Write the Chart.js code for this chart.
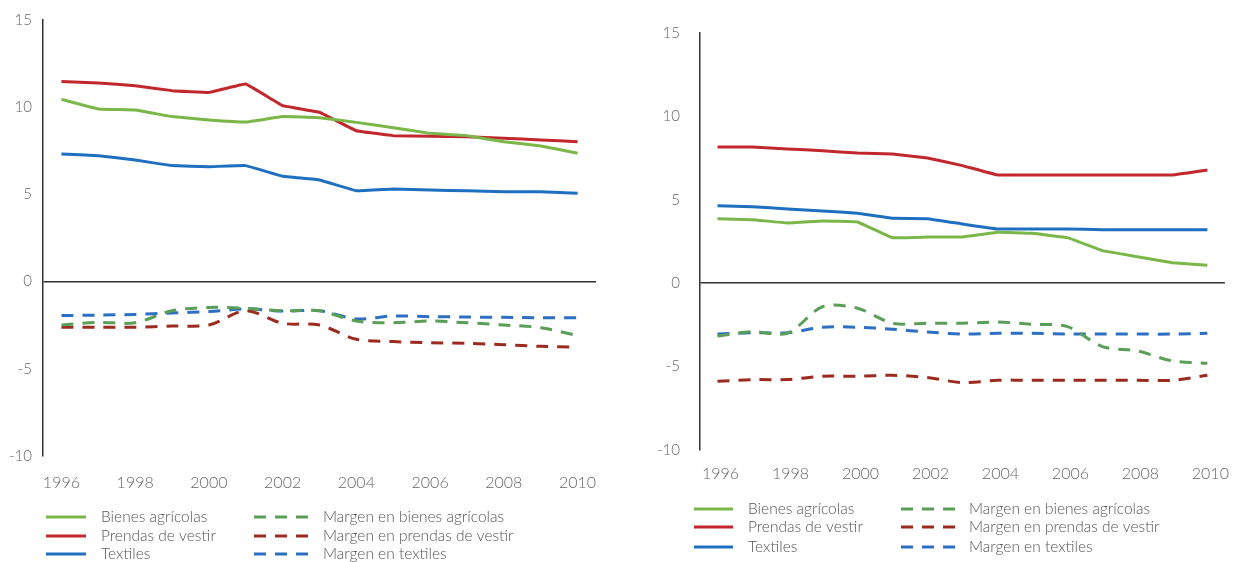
<!DOCTYPE html>
<html>
<head>
<meta charset="utf-8">
<script src="https://cdn.jsdelivr.net/npm/chart.js@4.4.0/dist/chart.umd.min.js"></script>
<style>
  html, body { margin: 0; padding: 0; background: #fff; }
  .wrap { display: flex; width: 1240px; height: 562px; }
  .box { width: 620px; height: 562px; }
</style>
</head>
<body>
<div class="wrap">
  <div class="box"><canvas id="chart-left" width="620" height="562"></canvas></div>
  <div class="box"><canvas id="chart-right" width="620" height="562"></canvas></div>
</div>
<script>
const years = ['1996', '1997', '1998', '1999', '2000', '2001', '2002', '2003',
               '2004', '2005', '2006', '2007', '2008', '2009', '2010'];

const seriesNames = [
    'Bienes agrícolas', 'Prendas de vestir', 'Textiles',
    'Margen en bienes agrícolas', 'Margen en prendas de vestir', 'Margen en textiles'
];

// left panel
const leftAgricolas = [10.45, 9.9, 9.84, 9.46, 9.27, 9.15, 9.46, 9.4, 9.13, 8.82, 8.5, 8.37, 8.02, 7.78, 7.36];
const leftVestir = [11.48, 11.39, 11.23, 10.95, 10.85, 11.33, 10.09, 9.71, 8.65, 8.37, 8.33, 8.31, 8.22, 8.12, 8.02];
const leftTextiles = [7.32, 7.22, 6.97, 6.65, 6.59, 6.65, 6.04, 5.83, 5.21, 5.31, 5.25, 5.21, 5.15, 5.15, 5.06];
const leftMargenAgricolas = [-2.49, -2.34, -2.36, -1.67, -1.48, -1.53, -1.67, -1.67, -2.26, -2.36, -2.26, -2.36, -2.49, -2.64, -3.1];
const leftMargenVestir = [-2.62, -2.62, -2.62, -2.55, -2.49, -1.67, -2.39, -2.49, -3.31, -3.44, -3.5, -3.54, -3.62, -3.71, -3.77];
const leftMargenTextiles = [-1.95, -1.92, -1.88, -1.8, -1.72, -1.57, -1.69, -1.67, -2.14, -1.97, -2.01, -2.03, -2.05, -2.07, -2.07];

// right panel
const rightAgricolas = [3.87, 3.81, 3.61, 3.73, 3.67, 2.73, 2.77, 2.77, 3.05, 2.99, 2.73, 1.95, 1.59, 1.23, 1.07];
const rightVestir = [8.17, 8.17, 8.05, 7.94, 7.8, 7.75, 7.5, 7.05, 6.49, 6.49, 6.49, 6.49, 6.49, 6.49, 6.79];
const rightTextiles = [4.65, 4.59, 4.45, 4.33, 4.19, 3.89, 3.87, 3.55, 3.25, 3.25, 3.25, 3.21, 3.21, 3.21, 3.21];
const rightMargenAgricolas = [-3.17, -2.9, -3.0, -1.41, -1.5, -2.4, -2.4, -2.4, -2.33, -2.46, -2.6, -3.8, -4.06, -4.66, -4.8];
const rightMargenVestir = [-5.88, -5.78, -5.78, -5.58, -5.58, -5.52, -5.66, -5.96, -5.82, -5.82, -5.82, -5.82, -5.82, -5.82, -5.52];
const rightMargenTextiles = [-3.05, -2.97, -2.97, -2.64, -2.64, -2.76, -2.93, -3.05, -3.0, -3.0, -3.05, -3.05, -3.05, -3.05, -3.0];

const colors = ['#7ab648', '#c1272d', '#1f6fc0', '#5b9e58', '#9c2b1f', '#2d6fc2'];
const dash = [12, 9];
const textColor = '#666';

Chart.defaults.font.family = 'Lato, "Open Sans", sans-serif';
Chart.defaults.font.weight = '300';

// two-column legend drawn under the plot: solid series left, margins right
const legendPlugin = {
    id: 'twoColumnLegend',
    afterDraw(chart, args, opts) {
        const ctx = chart.ctx;
        ctx.save();
        ctx.font = '300 15.5px Lato, sans-serif';
        ctx.textBaseline = 'middle';
        chart.data.datasets.forEach((ds, i) => {
            const col = opts.columns[i < 3 ? 0 : 1];
            const y = opts.rows[i % 3];
            ctx.strokeStyle = ds.borderColor;
            ctx.lineWidth = 3;
            ctx.setLineDash(ds.borderDash || []);
            ctx.beginPath();
            ctx.moveTo(col[0], y);
            ctx.lineTo(col[1], y);
            ctx.stroke();
            ctx.setLineDash([]);
            ctx.fillStyle = '#555';
            ctx.fillText(ds.label, col[2], y);
        });
        ctx.restore();
    }
};

function createDataSet(i, data) {
    const dashed = i >= 3;
    return {
        label: seriesNames[i],
        data,
        borderColor: colors[i],
        backgroundColor: colors[i],
        borderWidth: 3,
        borderDash: dashed ? dash : [],
        tension: dashed ? 0.3 : 0.05,
        pointRadius: 0,
        fill: false,
    };
}

function createChart(id, series, layout) {
    const context = document.getElementById(id);
    return new Chart(context, {
        type: 'line',
        data: {
            labels: years,
            datasets: series.map((s, i) => createDataSet(i, s)),
        },
        plugins: [legendPlugin],
        options: {
            responsive: false,
            animation: false,
            layout: { padding: { top: layout.top, right: layout.right, left: 0, bottom: 0 } },
            plugins: {
                legend: { display: false },
                tooltip: { enabled: false },
                twoColumnLegend: layout.legend,
            },
            scales: {
                x: {
                    type: 'category',
                    offset: true,
                    grid: { display: false, drawTicks: false },
                    border: { display: false },
                    afterFit: (scale) => { scale.height = layout.xHeight; },
                    ticks: {
                        autoSkip: false,
                        maxRotation: 0,
                        padding: layout.xPad,
                        labelOffset: layout.labelOffset,
                        color: textColor,
                        font: { size: 16 },
                        callback: function (value, index) {
                            return index % 2 === 0 ? this.getLabelForValue(value) : null;
                        },
                    },
                },
                y: {
                    min: -10,
                    max: 15,
                    afterFit: (scale) => { scale.width = layout.yWidth; },
                    grid: {
                        drawTicks: false,
                        lineWidth: 1.5,
                        color: (c) => (c.tick && c.tick.value === 0 ? '#333' : 'rgba(0,0,0,0)'),
                    },
                    border: { display: true, color: '#333', width: 1.5 },
                    ticks: {
                        stepSize: 5,
                        padding: layout.yPad,
                        color: textColor,
                        font: { size: 15 },
                    },
                },
            },
        },
    });
}

createChart('chart-left', [
    leftAgricolas, leftVestir, leftTextiles,
    leftMargenAgricolas, leftMargenVestir, leftMargenTextiles,
], {
    top: 20, right: 24, xHeight: 106, yWidth: 43, xPad: 17, yPad: 11, labelOffset: 0,
    legend: { rows: [517, 536, 554], columns: [[46, 86, 101], [254, 308, 323]] },
});

createChart('chart-right', [
    rightAgricolas, rightVestir, rightTextiles,
    rightMargenAgricolas, rightMargenVestir, rightMargenTextiles,
], {
    top: 33, right: 2, xHeight: 112, yWidth: 80, xPad: 14, yPad: 20, labelOffset: 3,
    legend: { rows: [509, 527, 547], columns: [[74, 113, 128], [281, 335, 349]] },
});
</script>
</body>
</html>
